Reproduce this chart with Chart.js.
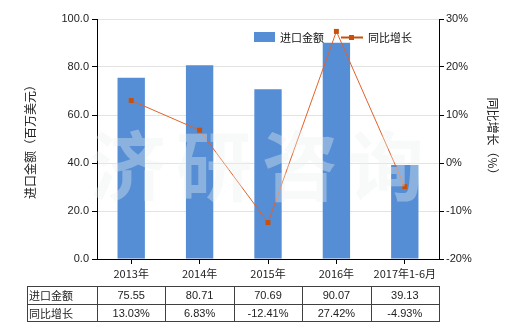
<!DOCTYPE html>
<html>
<head>
<meta charset="utf-8">
<script src="https://cdn.jsdelivr.net/npm/chart.js@4/dist/chart.umd.min.js"></script>
<style>
html,body{margin:0;padding:0;background:#fff;}
#wrap{width:520px;height:330px;position:relative;}
</style>
</head>
<body>
<div id="wrap"><canvas id="c" width="520" height="330"></canvas></div>
<script>
const categories = ['2013年', '2014年', '2015年', '2016年', '2017年1-6月'];
const importAmount = [75.55, 80.71, 70.69, 90.07, 39.13];
const yoyGrowth = [13.03, 6.83, -12.41, 27.42, -4.93];
const leftTicks = [0, 20, 40, 60, 80, 100];
const rightTicks = [-20, -10, 0, 10, 20, 30];
const seriesNames = ['进口金额', '同比增长'];
const leftTitle = '进口金额（百万美元）';
const rightTitle = '同比增长（%）';
const watermark = '济研咨询';

const FONT = '"Liberation Sans", "Noto Sans CJK SC", sans-serif';
const CJK = '"Noto Sans CJK SC", "Liberation Sans", sans-serif';
const BAR = '#558ed5';
const LINE = '#e0622a';
const MARK = '#c8500a';

const extras = {
  id: 'extras',
  afterDraw(chart) {
    const ctx = chart.ctx;
    const x = chart.scales.x;
    const area = chart.chartArea;
    // legend
    ctx.save();
    ctx.font = '11px ' + CJK;
    ctx.textBaseline = 'middle';
    ctx.fillStyle = BAR;
    ctx.fillRect(254, 32, 21, 10);
    ctx.fillStyle = '#111';
    ctx.textAlign = 'left';
    ctx.fillText(seriesNames[0], 280, 37.5);
    ctx.strokeStyle = MARK;
    ctx.lineWidth = 2;
    ctx.beginPath(); ctx.moveTo(341, 37.5); ctx.lineTo(363, 37.5); ctx.stroke();
    ctx.fillStyle = MARK;
    ctx.fillRect(349, 35, 5, 5);
    ctx.fillStyle = '#111';
    ctx.fillText(seriesNames[1], 368, 37.5);
    ctx.restore();

    // table
    const n = categories.length;
    const bounds = [];
    for (let i = 0; i <= n; i++) {
      if (i === 0) bounds.push(area.left);
      else if (i === n) bounds.push(area.right);
      else bounds.push((x.getPixelForValue(i - 1) + x.getPixelForValue(i)) / 2);
    }
    const tLeft = 27, r0 = 286, r1 = 304, r2 = 321;
    ctx.save();
    ctx.strokeStyle = '#404040';
    ctx.lineWidth = 1;
    ctx.beginPath();
    [r0, r1, r2].forEach(y => { ctx.moveTo(tLeft, y + 0.5); ctx.lineTo(Math.round(area.right) + 0.5, y + 0.5); });
    [tLeft].concat(bounds).forEach(bx => { const xx = Math.round(bx) + 0.5; ctx.moveTo(xx, r0); ctx.lineTo(xx, r2 + 1); });
    ctx.stroke();
    ctx.fillStyle = '#222';
    ctx.textBaseline = 'middle';
    ctx.font = '11px ' + CJK;
    ctx.textAlign = 'left';
    ctx.fillText(seriesNames[0], tLeft + 2, (r0 + r1) / 2 + 1);
    ctx.fillText(seriesNames[1], tLeft + 2, (r1 + r2) / 2 + 1);
    ctx.font = '11px ' + FONT;
    ctx.textAlign = 'center';
    for (let i = 0; i < n; i++) {
      const cx = x.getPixelForValue(i);
      ctx.fillText(importAmount[i].toFixed(2), cx, (r0 + r1) / 2 + 1);
      ctx.fillText(yoyGrowth[i].toFixed(2) + '%', cx, (r1 + r2) / 2 + 1);
    }
    ctx.restore();

    // watermark
    ctx.save();
    ctx.font = 'bold 76px ' + CJK;
    ctx.fillStyle = 'rgba(235,240,240,0.36)';
    ctx.textAlign = 'center';
    ctx.textBaseline = 'middle';
    const chars = Array.from(watermark);
    chars.forEach((ch, i) => ctx.fillText(ch, 128 + i * 86, 166));
    ctx.restore();
  }
};

new Chart(document.getElementById('c'), {
  data: {
    labels: categories,
    datasets: [
      {
        type: 'line', label: seriesNames[1], data: yoyGrowth, yAxisID: 'y1', order: 0,
        borderColor: LINE, borderWidth: 1, tension: 0,
        pointStyle: 'rect', pointRadius: 3.5, pointBackgroundColor: MARK, pointBorderColor: MARK, pointBorderWidth: 0
      },
      {
        type: 'bar', label: seriesNames[0], data: importAmount, yAxisID: 'y', order: 1,
        backgroundColor: BAR, barPercentage: 0.4, categoryPercentage: 1
      }
    ]
  },
  options: {
    responsive: false, animation: false,
    layout: { padding: { top: 19, left: 0, right: 0, bottom: 0 } },
    plugins: { legend: { display: false }, tooltip: { enabled: false } },
    scales: {
      x: {
        offset: true,
        grid: { display: true, drawOnChartArea: false, offset: false, tickLength: 5, tickColor: '#000' },
        border: { color: '#000', width: 1 },
        ticks: { font: { size: 11, family: CJK }, color: '#222', padding: 3, maxRotation: 0, autoSkip: false },
        afterFit(s) { s.height = 71; }
      },
      y: {
        position: 'left', min: 0, max: 100,
        afterBuildTicks(s) { s.ticks = leftTicks.map(v => ({ value: v })); },
        grid: { color: '#e3e3e3', tickColor: '#000', tickLength: 5 },
        border: { color: '#000', width: 1 },
        ticks: { font: { size: 11, family: FONT }, color: '#222', padding: 3, callback: v => v.toFixed(1) },
        title: { display: true, text: leftTitle, font: { size: 12, family: CJK }, color: '#222', padding: { top: 23, bottom: 0 } },
        afterFit(s) { s.width = 97; }
      },
      y1: {
        position: 'right', min: -20, max: 30,
        afterBuildTicks(s) { s.ticks = rightTicks.map(v => ({ value: v })); },
        grid: { drawOnChartArea: false, tickColor: '#000', tickLength: 5 },
        border: { color: '#000', width: 1 },
        ticks: { font: { size: 11, family: FONT }, color: '#222', padding: 2, callback: v => v + '%' },
        title: { display: true, text: rightTitle, font: { size: 12, family: CJK }, color: '#222', padding: { top: 20, bottom: 0 } },
        afterFit(s) { s.width = 81; }
      }
    }
  },
  plugins: [extras]
});
</script>
</body>
</html>
